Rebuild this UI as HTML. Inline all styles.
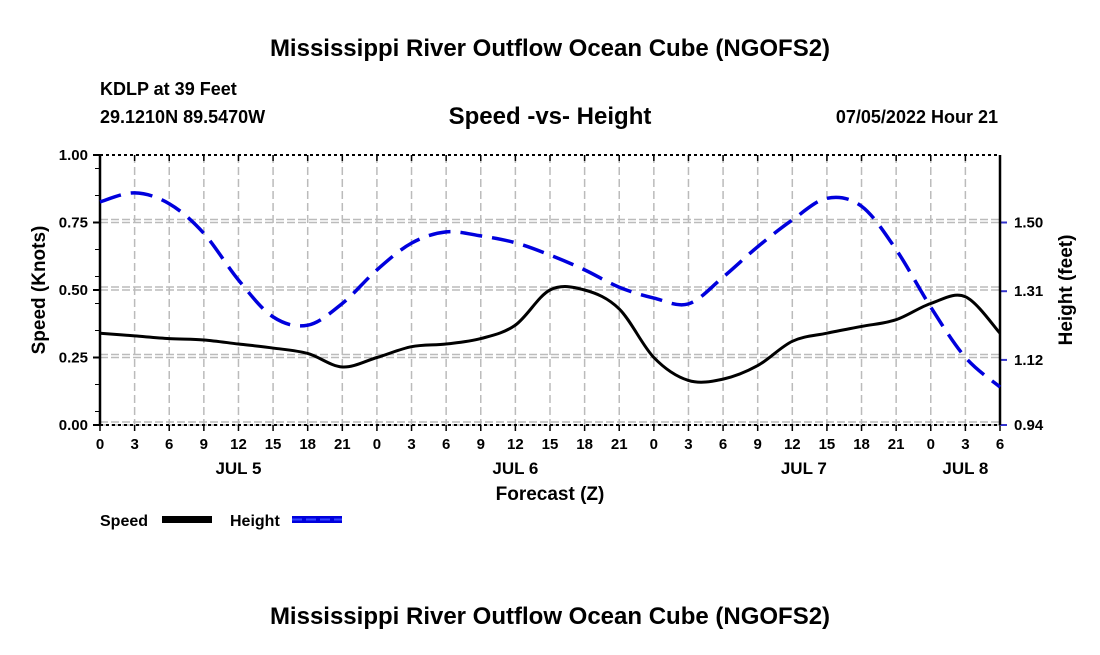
<!DOCTYPE html>
<html><head><meta charset="utf-8"><style>
body{margin:0;background:#fff;width:1100px;height:650px;overflow:hidden;font-family:"Liberation Sans",sans-serif}
</style></head><body>
<svg width="1100" height="650" xmlns="http://www.w3.org/2000/svg" font-family="Liberation Sans, sans-serif" font-weight="bold">
<text x="550" y="56" text-anchor="middle" font-size="24">Mississippi River Outflow Ocean Cube (NGOFS2)</text>
<text x="100" y="95" font-size="18">KDLP at 39 Feet</text>
<text x="100" y="123" font-size="18">29.1210N  89.5470W</text>
<text x="550" y="124" text-anchor="middle" font-size="24">Speed -vs- Height</text>
<text x="998" y="123" text-anchor="end" font-size="18">07/05/2022 Hour 21</text>
<g id="grid"></g>
<g id="axes"></g>
<g id="series"></g>
<text transform="translate(45,290) rotate(-90)" text-anchor="middle" font-size="19">Speed (Knots)</text>
<text transform="translate(1072,290) rotate(-90)" text-anchor="middle" font-size="19">Height (feet)</text>
<text x="550" y="500" text-anchor="middle" font-size="19">Forecast (Z)</text>
<g><text x="100" y="526" font-size="16">Speed</text><rect x="162" y="516" width="50" height="7" fill="#000"/></g>
<g><text x="230" y="526" font-size="16">Height</text><rect x="292" y="516" width="50" height="7" fill="#0000dd"/><line x1="292" y1="519.5" x2="342" y2="519.5" stroke="#3344ff" stroke-width="2" stroke-dasharray="10,4"/></g>
<text x="550" y="624" text-anchor="middle" font-size="24">Mississippi River Outflow Ocean Cube (NGOFS2)</text>
</svg>
<script>
const hours=[0,3,6,9,12,15,18,21,24,27,30,33,36,39,42,45,48,51,54,57,60,63,66,69,72,75,78];
const speed=[0.34,0.33,0.32,0.315,0.30,0.285,0.265,0.215,0.25,0.29,0.30,0.32,0.37,0.50,0.50,0.43,0.25,0.165,0.17,0.22,0.31,0.34,0.365,0.39,0.45,0.475,0.34];
const height=[1.557,1.582,1.552,1.470,1.341,1.239,1.216,1.276,1.369,1.443,1.474,1.463,1.444,1.410,1.369,1.321,1.291,1.275,1.349,1.433,1.507,1.567,1.545,1.425,1.266,1.127,1.045];
const xTickLabels=["0","3","6","9","12","15","18","21","0","3","6","9","12","15","18","21","0","3","6","9","12","15","18","21","0","3","6"];
const dayLabels=["JUL 5","JUL 6","JUL 7","JUL 8"];
const dayHours=[12,36,61,75];
const leftTicks=[0,0.25,0.5,0.75,1.0];
const rightTicks=[0.94,1.12,1.31,1.50];
const X0=100,X1=1000,Y0=425,Y1=155,HMAX=78;
const NS="http://www.w3.org/2000/svg";
const xs=h=>X0+(X1-X0)*h/HMAX;
const ys=v=>Y0-(Y0-Y1)*v;
const yh=f=>ys((f-0.94)/0.7467);
function mk(tag,attrs,parent){const e=document.createElementNS(NS,tag);for(const k in attrs)e.setAttribute(k,attrs[k]);parent.appendChild(e);return e;}
const grid=document.getElementById('grid'),axes=document.getElementById('axes'),series=document.getElementById('series');
hours.forEach((h,i)=>{
  if(i>0&&i<hours.length-1){const l=mk('line',{x1:xs(h),x2:xs(h),y1:Y1,y2:Y0,stroke:'#bbb','stroke-width':1.5,'stroke-dasharray':'8,4'},grid);
  
  }
  mk('line',{x1:xs(h),x2:xs(h),y1:Y0,y2:Y0+6,stroke:'#000','stroke-width':1.5},axes);
  mk('line',{x1:xs(h),x2:xs(h),y1:Y1,y2:Y1+6,stroke:'#000','stroke-width':1.5},axes);
  const t=mk('text',{x:xs(h),y:Y0+24,'text-anchor':'middle','font-size':15},axes);t.textContent=xTickLabels[i];
  
  
});
dayLabels.forEach((d,i)=>{const t=mk('text',{x:xs(dayHours[i]),y:Y0+49,'text-anchor':'middle','font-size':17},axes);t.textContent=d;
  
  });
leftTicks.forEach(v=>{
  if(v<1){mk('line',{x1:X0,x2:X1,y1:ys(v),y2:ys(v),stroke:'#bbb','stroke-width':1.5,'stroke-dasharray':'8,3'},grid);
  mk('line',{x1:X0,x2:X1,y1:ys(v)-3,y2:ys(v)-3,stroke:'#bbb','stroke-width':1.5,'stroke-dasharray':'8,3'},grid);}
  mk('line',{x1:X0-7,x2:X0,y1:ys(v),y2:ys(v),stroke:'#000','stroke-width':2},axes);
  const t=mk('text',{x:X0-12,y:ys(v)+5,'text-anchor':'end','font-size':15},axes);t.textContent=v.toFixed(2);
  
  
});
for(let v=0.05;v<1;v+=0.1){mk('line',{x1:X0-5,x2:X0,y1:ys(v),y2:ys(v),stroke:'#000','stroke-width':1},axes);}
rightTicks.forEach(f=>{
  mk('line',{x1:X1,x2:X1+7,y1:yh(f),y2:yh(f),stroke:'#3333cc','stroke-width':2},axes);
  const t=mk('text',{x:X1+14,y:yh(f)+5,'font-size':15},axes);t.textContent=f.toFixed(2);
  
  
});
mk('line',{x1:X0,x2:X1,y1:Y1,y2:Y1,stroke:'#000','stroke-width':2,'stroke-dasharray':'3,3'},axes);
mk('line',{x1:X0,x2:X1,y1:Y0,y2:Y0,stroke:'#000','stroke-width':2,'stroke-dasharray':'3,3'},axes);
mk('line',{x1:X0,x2:X0,y1:Y1,y2:Y0,stroke:'#000','stroke-width':2.5},axes);
mk('line',{x1:X1,x2:X1,y1:Y1,y2:Y0,stroke:'#000','stroke-width':2.5},axes);
function smooth(pts){let d=`M${pts[0][0]},${pts[0][1]}`;
 for(let i=0;i<pts.length-1;i++){const p0=pts[Math.max(i-1,0)],p1=pts[i],p2=pts[i+1],p3=pts[Math.min(i+2,pts.length-1)];
  d+=` C${p1[0]+(p2[0]-p0[0])/6},${p1[1]+(p2[1]-p0[1])/6} ${p2[0]-(p3[0]-p1[0])/6},${p2[1]-(p3[1]-p1[1])/6} ${p2[0]},${p2[1]}`;}
 return d;}
const sp=mk('path',{d:smooth(hours.map((h,i)=>[xs(h),ys(speed[i])])),fill:'none',stroke:'#000','stroke-width':3},series);


const hp=mk('path',{d:smooth(hours.map((h,i)=>[xs(h),yh(height[i])])),fill:'none',stroke:'#0000dd','stroke-width':3.5,'stroke-dasharray':'22,10'},series);


</script>
</body></html>
